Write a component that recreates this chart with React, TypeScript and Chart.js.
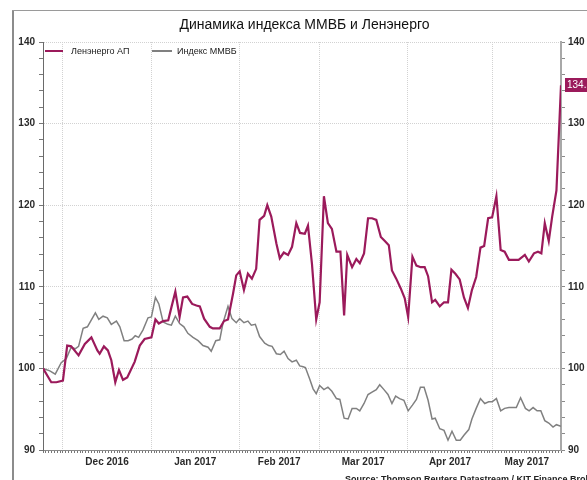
import React, { useEffect, useRef } from 'react';
import { Chart, registerables } from 'chart.js';

Chart.register(...registerables);

const TITLE = 'Динамика индекса ММВБ и Ленэнерго';
const SOURCE = 'Source: Thomson Reuters Datastream / KIT Finance Broker';
const seriesNames = ['Ленэнерго АП', 'Индекс ММВБ'];
const seriesColors = ['#9b1a5b', '#808080'];

// x values are days since 24 Nov 2016
const lenenergoDays = [
  0, 2.9, 4.7, 7.0, 8.5, 9.9, 12.5, 14.7, 17.0, 19.1,
  19.9, 21.4, 22.8, 24.0, 25.4, 26.7, 28.1, 29.6, 32.2, 34.0,
  35.7, 38.1, 39.5, 40.7, 42.2, 44.0, 45.2, 46.5, 48.0, 49.2,
  50.7, 52.4, 53.9, 55.1, 56.6, 58.6, 59.7, 62.1, 63.6, 65.0,
  66.8, 67.9, 69.1, 70.6, 72.0, 73.4, 74.9, 76.1, 77.7, 78.8,
  80.2, 82.0, 83.2, 84.6, 86.1, 87.5, 89.0, 90.3, 92.0, 93.1,
  94.5, 96.0, 97.2, 98.7, 100.1, 101.5, 103.1, 104.5, 105.8, 106.9,
  108.6, 110.1, 111.3, 112.8, 114.2, 115.6, 117.1, 118.7, 120.1, 121.5,
  122.6, 124.1, 125.7, 127.1, 128.3, 129.8, 131.2, 132.7, 134.1, 135.3,
  136.7, 137.8, 139.4, 140.9, 142.3, 143.5, 144.9, 146.4, 147.9, 149.3,
  150.7, 152.2, 153.7, 155.0, 156.4, 157.8, 159.3, 160.8, 162.2, 163.7,
  165.5, 167.1, 169.3, 170.7, 172.5, 173.9, 175.1, 176.3, 177.7, 178.9,
  180.4, 182,
];
const lenenergoValues = [
  100, 98.3, 98.3, 98.5, 102.8, 102.7, 101.6, 103.0, 103.8, 102.2,
  101.8, 102.7, 102.2, 101.0, 98.3, 99.8, 98.6, 98.9, 100.8, 102.8,
  103.6, 103.8, 106.0, 105.5, 105.8, 105.9, 107.6, 109.4, 106.3, 108.7,
  108.8, 107.9, 107.7, 107.6, 106.1, 105.1, 104.9, 104.9, 105.8, 106.0,
  109.2, 111.4, 111.9, 109.6, 111.6, 111.0, 112.2, 118.2, 118.7, 120.0,
  118.6, 115.3, 113.5, 114.2, 113.9, 114.9, 117.8, 116.6, 116.5, 117.5,
  112.8, 106.0, 108.1, 121.1, 117.8, 117.1, 114.3, 114.3, 106.5, 113.9,
  112.4, 113.4, 112.9, 114.1, 118.4, 118.4, 118.2, 116.1, 115.6, 115.1,
  112.0, 111.0, 109.8, 108.6, 106.3, 113.7, 112.6, 112.4, 112.4, 111.3,
  108.1, 108.4, 107.6, 108.1, 108.1, 112.1, 111.6, 110.9, 108.7, 107.4,
  109.6, 111.2, 114.8, 115.0, 118.4, 118.5, 121.1, 114.5, 114.3, 113.3,
  113.3, 113.3, 113.9, 113.1, 114.1, 114.3, 114.1, 117.8, 115.6, 118.6,
  121.8, 134.7,
];

const micexDays = [
  0, 2.4, 4.3, 6.4, 8.2, 9.9, 11.3, 12.5, 14.1, 15.6,
  18.4, 19.6, 21.1, 22.6, 24.0, 25.8, 27.0, 28.5, 29.9, 31.3,
  32.4, 33.6, 35.1, 36.9, 38.1, 39.5, 40.7, 42.2, 43.9, 45.1,
  46.5, 48.0, 49.5, 50.9, 52.7, 54.5, 56.2, 58.0, 59.1, 60.7,
  62.1, 63.2, 65.0, 66.4, 67.9, 69.1, 70.6, 72.0, 73.2, 74.6,
  76.1, 77.9, 79.3, 80.5, 82.0, 83.4, 84.7, 86.1, 87.5, 89.0,
  90.2, 91.4, 92.2, 93.7, 94.9, 96.0, 97.2, 98.7, 100.1, 101.5,
  103.1, 104.3, 105.8, 107.2, 108.6, 110.1, 111.3, 112.8, 114.2, 115.6,
  117.1, 118.3, 119.8, 121.2, 122.6, 123.9, 125.3, 126.8, 128.3, 129.8,
  131.2, 132.6, 133.9, 135.3, 136.7, 137.8, 139.4, 140.9, 142.3, 143.7,
  145.2, 146.6, 147.9, 149.6, 150.7, 152.2, 153.7, 155.2, 156.6, 157.8,
  159.3, 160.8, 162.2, 163.7, 166.3, 167.8, 169.5, 170.8, 172.2, 173.6,
  174.9, 176.3, 177.7, 179.2, 180.4, 182,
];
const micexValues = [
  100, 99.7, 99.3, 100.7, 101.2, 102.6, 102.4, 102.7, 104.9, 105.1,
  106.8, 106.0, 106.4, 106.2, 105.4, 105.8, 105.1, 103.4, 103.4, 103.6,
  104.0, 103.8, 104.7, 106.2, 106.3, 108.7, 107.9, 105.7, 105.4, 105.3,
  106.4, 105.5, 105.1, 104.3, 103.8, 103.4, 102.8, 102.6, 102.1, 103.4,
  103.5, 105.5, 107.6, 106.1, 105.6, 106.1, 105.6, 105.8, 105.3, 105.4,
  103.9, 103.1, 102.8, 102.7, 101.8, 101.7, 102.1, 101.2, 100.8, 101.0,
  100.3, 100.2, 100.1, 98.7, 97.5, 96.9, 97.9, 97.4, 97.7, 97.2,
  96.3, 96.2, 93.9, 93.8, 95.1, 95.1, 94.8, 95.7, 96.8, 97.1,
  97.4, 98.0, 97.4, 96.8, 95.7, 96.6, 96.3, 96.1, 94.8, 95.5,
  96.2, 97.7, 97.7, 96.1, 93.8, 93.9, 92.6, 92.4, 91.2, 92.3,
  91.2, 91.2, 91.8, 92.5, 93.8, 95.1, 96.3, 95.7, 95.9, 95.9,
  96.3, 94.8, 95.1, 95.2, 95.2, 96.4, 95.1, 94.8, 95.2, 94.8,
  94.8, 93.6, 93.3, 92.8, 93.1, 92.9,
];

const xMaxDay = 182;
const monthStartDays = [7, 38, 69, 97, 128, 158];
const monthLabelDays = [22.5, 53.5, 83, 112.5, 143, 170];
const monthLabels = ['Dec 2016', 'Jan 2017', 'Feb 2017', 'Mar 2017', 'Apr 2017', 'May 2017'];
const yMin = 90;
const yMax = 140;
const yMajorStep = 10;
const yMinorStep = 2;

const FONT = "'Liberation Sans', Arial, sans-serif";

const lastValuePlugin = {
  id: 'lastValue',
  afterDraw(chart: any) {
    const { ctx, chartArea, scales } = chart;
    const v = lenenergoValues[lenenergoValues.length - 1];
    const y = scales.y.getPixelForValue(v);
    ctx.save();
    ctx.fillStyle = seriesColors[0];
    ctx.fillRect(chartArea.right + 4, Math.round(y - 7), 40, 14);
    ctx.fillStyle = '#ffffff';
    ctx.font = `10px ${FONT}`;
    ctx.textBaseline = 'middle';
    ctx.textAlign = 'left';
    ctx.fillText(v.toFixed(1), chartArea.right + 6, y + 0.5);
    ctx.restore();
  },
};

function yTicksBuilder(scale: any) {
  const t: any[] = [];
  for (let v = yMin; v <= yMax; v += yMinorStep) t.push({ value: v });
  scale.ticks = t;
}

export default function App() {
  const ref = useRef<HTMLCanvasElement | null>(null);

  useEffect(() => {
    if (!ref.current) return;
    const chart = new Chart(ref.current, {
      type: 'line',
      data: {
        datasets: [
          {
            label: seriesNames[0],
            data: lenenergoDays.map((d, i) => ({ x: d, y: lenenergoValues[i] })),
            borderColor: seriesColors[0],
            backgroundColor: seriesColors[0],
            borderWidth: 2.2,
            pointRadius: 0,
            tension: 0,
            order: 0,
          },
          {
            label: seriesNames[1],
            data: micexDays.map((d, i) => ({ x: d, y: micexValues[i] })),
            borderColor: seriesColors[1],
            backgroundColor: seriesColors[1],
            borderWidth: 1.5,
            pointRadius: 0,
            tension: 0,
            order: 1,
          },
        ],
      },
      options: {
        animation: false,
        responsive: false,
        maintainAspectRatio: false,
        layout: { padding: { top: 42, left: 0, right: 0, bottom: 0 } },
        plugins: {
          legend: { display: false },
          title: { display: false },
          tooltip: { enabled: false },
        },
        scales: {
          x: {
            type: 'linear',
            min: 0,
            max: xMaxDay,
            afterBuildTicks: (scale: any) => {
              const t: any[] = [];
              for (let d = 0; d <= xMaxDay; d++) t.push({ value: d });
              monthLabelDays.forEach((v) => {
                if (!Number.isInteger(v)) t.push({ value: v });
              });
              t.sort((a, b) => a.value - b.value);
              scale.ticks = t;
            },
            afterFit: (scale: any) => {
              scale.height = 30;
            },
            ticks: {
              autoSkip: false,
              maxRotation: 0,
              minRotation: 0,
              padding: 3,
              color: '#2a2a2a',
              font: { family: FONT, size: 10, weight: 'bold' },
              callback: (v: any) => {
                const i = monthLabelDays.indexOf(Number(v));
                return i >= 0 ? monthLabels[i] : '';
              },
            },
            grid: {
              color: (c: any) => (c.tick && monthStartDays.includes(c.tick.value) ? '#d2d2d2' : 'rgba(0,0,0,0)'),
              tickColor: (c: any) =>
                c.tick && !Number.isInteger(c.tick.value) ? 'rgba(0,0,0,0)' : '#777777',
              tickLength: 3,
              lineWidth: 1,
            },
            border: { color: '#8a8a8a', width: 1, dash: [1, 1] },
          },
          y: {
            type: 'linear',
            position: 'left',
            min: yMin,
            max: yMax,
            afterBuildTicks: yTicksBuilder,
            afterFit: (scale: any) => {
              scale.width = 43;
            },
            ticks: {
              autoSkip: false,
              padding: 4,
              color: '#2a2a2a',
              font: { family: FONT, size: 10, weight: 'bold' },
              callback: (v: any) => (Number(v) % yMajorStep === 0 ? String(v) : ''),
            },
            grid: {
              color: (c: any) => (c.tick && c.tick.value % yMajorStep === 0 ? '#d2d2d2' : 'rgba(0,0,0,0)'),
              tickColor: '#777777',
              tickLength: 4,
            },
            border: { color: '#6a6a6a', width: 1, dash: [1, 1] },
          },
          y2: {
            type: 'linear',
            position: 'right',
            min: yMin,
            max: yMax,
            afterBuildTicks: yTicksBuilder,
            afterFit: (scale: any) => {
              scale.width = 26;
            },
            ticks: {
              autoSkip: false,
              padding: 3,
              color: '#2a2a2a',
              font: { family: FONT, size: 10, weight: 'bold' },
              callback: (v: any) => (Number(v) % yMajorStep === 0 ? String(v) : ''),
            },
            grid: {
              drawOnChartArea: false,
              tickColor: '#8a8a8a',
              tickLength: 4,
            },
            border: { color: '#a8a8a8', width: 2 },
          },
        },
      },
      plugins: [lastValuePlugin],
    } as any);
    return () => chart.destroy();
  }, []);

  return (
    <div style={{ position: 'fixed', left: 0, top: 0, width: 587, height: 480, background: '#fff', overflow: 'hidden', fontFamily: FONT }}>
      <canvas ref={ref} width={587} height={480} style={{ position: 'absolute', left: 0, top: 0, width: 587, height: 480 }} />
      <div style={{ position: 'absolute', left: 12, top: 10, width: 2, height: 470, background: '#8c8c8c' }} />
      <div style={{ position: 'absolute', left: 12, top: 10, width: 575, height: 1, background: '#9a9a9a' }} />
      <div style={{ position: 'absolute', left: 14, width: 573, top: 15, textAlign: 'center', paddingLeft: 8, boxSizing: 'border-box', fontSize: 14, lineHeight: '18px', color: '#111' }}>
        {TITLE}
      </div>
      {seriesNames.map((name, i) => (
        <React.Fragment key={name}>
          <div style={{ position: 'absolute', left: i === 0 ? 45 : 152, top: 50, width: i === 0 ? 18 : 20, height: 2, background: seriesColors[i] }} />
          <div style={{ position: 'absolute', left: i === 0 ? 71 : 177, top: 45, fontSize: 9, lineHeight: '12px', color: '#1a1a1a' }}>{name}</div>
        </React.Fragment>
      ))}
      <div style={{ position: 'absolute', left: 345, top: 473, fontSize: 9, fontWeight: 'bold', lineHeight: '12px', color: '#222', whiteSpace: 'nowrap' }}>
        {SOURCE}
      </div>
    </div>
  );
}
